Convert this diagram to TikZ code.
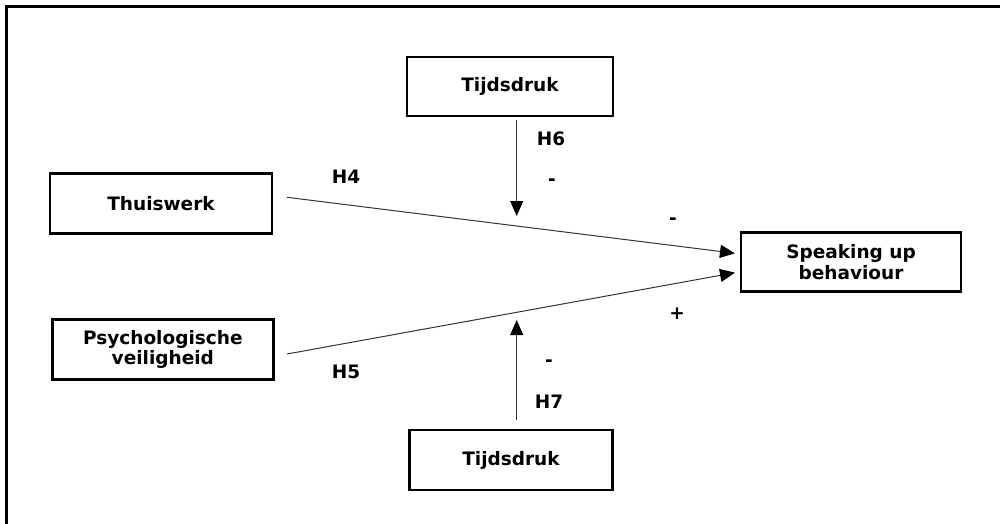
\documentclass[tikz,border=0pt]{standalone}
\usepackage{fontspec}
\setmainfont{DejaVu Sans}
\usetikzlibrary{arrows.meta}
\begin{document}
\begin{tikzpicture}[x=1pt,y=-1pt,
  box/.style={draw=black, line width=2.5pt, fill=white, inner sep=0pt, align=center,
    font=\bfseries\fontsize{18.5}{20.5}\selectfont},
  lbl/.style={inner sep=0pt, font=\bfseries\fontsize{18.5}{20.5}\selectfont},
  conn/.style={draw=black!80, line width=1pt,
    -{Triangle[length=15pt,width=13pt,color=black]}}]
\useasboundingbox (0,0) rectangle (1000,524);
% outer frame (runs off the page at right and bottom)
\draw[line width=2.8pt] (6.2,6.2) rectangle (1040,560);

% variables
\node[box, minimum width=206pt, minimum height=59pt] (td1) at (510,86.5) {Tijdsdruk};
\node[box, minimum width=203pt, minimum height=60pt] (td2) at (511,460) {Tijdsdruk};
\node[box, minimum width=222pt, minimum height=60pt] (thuis) at (161,203.5) {Thuiswerk};
\node[box, minimum width=221pt, minimum height=60pt] (psy) at (162.8,349.7) {Psychologische\\veiligheid};
\node[box, minimum width=220pt, minimum height=59pt] (spk) at (851,262) {Speaking up\\behaviour};

% connector end points
\coordinate (thuisOut) at (287,197.3);
\coordinate (psyOut) at (287,354);
\coordinate (spkInA) at (735,253.3);
\coordinate (spkInB) at (735,272.7);
\coordinate (td1Out) at (516.7,120);
\coordinate (modA) at (516.7,216);
\coordinate (td2Out) at (516.7,420);
\coordinate (modB) at (516.7,320);

% main effects
\draw[conn] (thuisOut) -- (spkInA);
\draw[conn] (psyOut) -- (spkInB);
% moderation by time pressure
\draw[conn] (td1Out) -- (modA);
\draw[conn] (td2Out) -- (modB);

% hypothesis labels and signs
\node[lbl] (h4) at (346,177) {H4};
\node[lbl] (h5) at (346,372) {H5};
\node[lbl] (h6) at (551,139) {H6};
\node[lbl] (h7) at (549,402) {H7};
\node[lbl] (s6) at (552,182) {-};
\node[lbl] (s7) at (549,363) {-};
\node[lbl] (s4) at (673,221) {-};
\node[lbl] (s5) at (677,314) {+};
\end{tikzpicture}
\end{document}
